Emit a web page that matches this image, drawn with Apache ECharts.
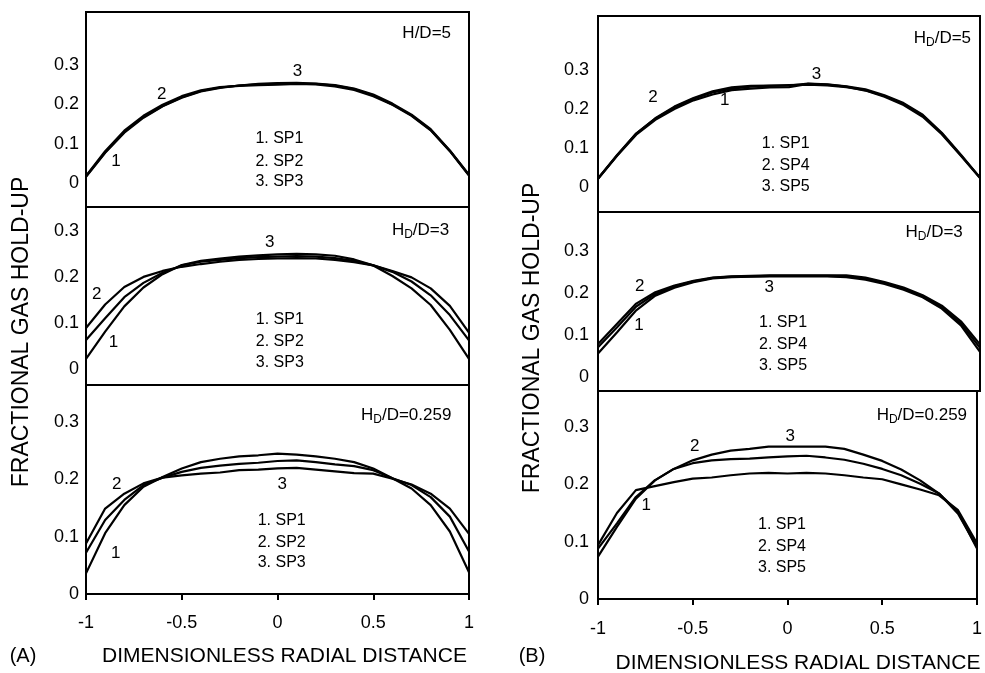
<!DOCTYPE html>
<html><head><meta charset="utf-8">
<script src="https://cdn.jsdelivr.net/npm/echarts@6/dist/echarts.min.js"></script>
<style>html,body{margin:0;padding:0;background:#fff}#c{width:985px;height:673px}</style>
</head><body><div id="c"></div>
<script>
// ---- data ----
const xs = [-1,-0.9,-0.8,-0.7,-0.6,-0.5,-0.4,-0.3,-0.2,-0.1,0,0.1,0.2,0.3,0.4,0.5,0.6,0.7,0.8,0.9,1];
const xTicks = [-1,-0.5,0,0.5,1];
const yTicks = [0,0.1,0.2,0.3];

// Panel A, H/D=5
const aTopSP1 = [0.017,0.078,0.130,0.168,0.196,0.218,0.234,0.243,0.248,0.251,0.252,0.253,0.252,0.248,0.239,0.223,0.200,0.172,0.135,0.082,0.020];
const aTopSP2 = [0.018,0.081,0.133,0.171,0.199,0.221,0.236,0.244,0.247,0.249,0.250,0.252,0.251,0.246,0.237,0.221,0.199,0.171,0.134,0.081,0.019];
const aTopSP3 = [0.016,0.077,0.128,0.166,0.195,0.217,0.233,0.242,0.248,0.252,0.254,0.255,0.253,0.249,0.240,0.225,0.202,0.174,0.137,0.083,0.021];
// Panel A, HD/D=3
const aMidSP1 = [0.022,0.081,0.136,0.177,0.206,0.226,0.235,0.240,0.244,0.247,0.249,0.250,0.249,0.246,0.238,0.225,0.202,0.175,0.139,0.085,0.022];
const aMidSP2 = [0.089,0.140,0.178,0.200,0.213,0.222,0.228,0.233,0.237,0.239,0.240,0.241,0.240,0.237,0.232,0.225,0.213,0.199,0.175,0.137,0.079];
const aMidSP3 = [0.063,0.110,0.156,0.187,0.209,0.225,0.233,0.237,0.241,0.243,0.244,0.245,0.244,0.241,0.235,0.225,0.211,0.190,0.160,0.117,0.062];
// Panel A, HD/D=0.259
const aBotSP1 = [0.036,0.106,0.155,0.187,0.204,0.219,0.230,0.236,0.240,0.242,0.245,0.243,0.240,0.236,0.230,0.219,0.202,0.184,0.155,0.109,0.038];
const aBotSP2 = [0.088,0.149,0.175,0.193,0.203,0.207,0.210,0.212,0.216,0.217,0.219,0.220,0.217,0.214,0.211,0.210,0.201,0.191,0.175,0.149,0.105];
const aBotSP3 = [0.072,0.129,0.164,0.190,0.203,0.213,0.220,0.224,0.227,0.229,0.232,0.233,0.230,0.226,0.223,0.216,0.202,0.190,0.169,0.135,0.074];
// Panel B, HD/D=5
const bTopSP1 = [0.021,0.080,0.134,0.172,0.200,0.222,0.237,0.248,0.252,0.255,0.256,0.264,0.262,0.257,0.247,0.231,0.210,0.180,0.135,0.080,0.023];
const bTopSP4 = [0.021,0.081,0.137,0.176,0.206,0.228,0.245,0.255,0.259,0.260,0.261,0.262,0.260,0.256,0.248,0.233,0.213,0.183,0.137,0.081,0.024];
const bTopSP5 = [0.022,0.082,0.137,0.175,0.204,0.226,0.242,0.252,0.257,0.259,0.260,0.265,0.263,0.258,0.250,0.235,0.215,0.185,0.139,0.083,0.024];
// Panel B, HD/D=3
const bMidSP1 = [0.056,0.107,0.159,0.194,0.213,0.226,0.235,0.238,0.239,0.240,0.240,0.240,0.240,0.238,0.232,0.222,0.208,0.190,0.163,0.123,0.060];
const bMidSP4 = [0.079,0.127,0.175,0.202,0.218,0.229,0.237,0.240,0.241,0.242,0.242,0.242,0.242,0.242,0.237,0.226,0.213,0.195,0.170,0.133,0.078];
const bMidSP5 = [0.071,0.119,0.168,0.198,0.216,0.228,0.236,0.239,0.240,0.241,0.241,0.241,0.241,0.240,0.235,0.224,0.211,0.192,0.166,0.128,0.070];
// Panel B, HD/D=0.259
const bBotSP1 = [0.094,0.150,0.190,0.197,0.204,0.210,0.212,0.216,0.219,0.220,0.219,0.220,0.219,0.216,0.212,0.209,0.200,0.191,0.181,0.155,0.097];
const bBotSP4 = [0.088,0.132,0.178,0.207,0.227,0.237,0.242,0.244,0.245,0.247,0.249,0.250,0.247,0.243,0.236,0.227,0.216,0.201,0.184,0.152,0.088];
const bBotSP5 = [0.074,0.126,0.175,0.207,0.227,0.242,0.252,0.259,0.262,0.266,0.266,0.266,0.266,0.262,0.252,0.241,0.226,0.207,0.184,0.149,0.091];

const legendA = ['1. SP1','2. SP2','3. SP3'];
const legendB = ['1. SP1','2. SP4','3. SP5'];
const panelTitles = ['H/D=5','HD/D=3','HD/D=0.259','HD/D=5','HD/D=3','HD/D=0.259'];

// ---- layout ----
const FONT = '"Liberation Sans", Arial, Helvetica, sans-serif';
const grids = [
  {left:86, top:12, width:383, height:195},
  {left:86, top:207, width:383, height:178},
  {left:86, top:385, width:383, height:209},
  {left:598, top:16, width:382, height:196},
  {left:598, top:212, width:382, height:179},
  {left:598, top:391, width:382, height:208}
];
const yRanges = [[-0.061,0.435],[-0.035,0.352],[0,0.3646],[-0.064,0.438],[-0.033,0.393],[0,0.363]];
const curves = [
  [aTopSP1,aTopSP2,aTopSP3],[aMidSP1,aMidSP2,aMidSP3],[aBotSP1,aBotSP2,aBotSP3],
  [bTopSP1,bTopSP4,bTopSP5],[bMidSP1,bMidSP4,bMidSP5],[bBotSP1,bBotSP4,bBotSP5]
];
// annotation anchors (data coordinates)
const curveLabelPos = [
  [[-0.843,0.055],[-0.605,0.225],[0.104,0.284]],
  [[-0.857,0.058],[-0.944,0.163],[-0.04,0.276]],
  [[-0.845,0.071],[-0.84,0.191],[0.025,0.191]],
  [[-0.336,0.222],[-0.712,0.231],[0.144,0.289]],
  [[-0.785,0.123],[-0.782,0.217],[-0.104,0.213]],
  [[-0.746,0.164],[-0.489,0.267],[0.015,0.284]]
];
const legendPos = [
  [0.01,[0.113,0.055,0.0025]],
  [0.012,[0.108,0.06,0.013]],
  [0.022,[0.128,0.09,0.054]],
  [-0.017,[0.111,0.054,0.0]],
  [-0.031,[0.129,0.078,0.028]],
  [-0.029,[0.13,0.092,0.055]]
];
const titlePos = [[0.779,0.381],[0.747,0.301],[0.672,0.312],[0.803,0.38],[0.76,0.345],[0.709,0.32]];

function titleRich(t){
  if (t.startsWith('HD')) return '{n|H}{s|D}{n|' + t.slice(2) + '}';
  return '{n|' + t + '}';
}

const option = {
  backgroundColor:'#fff',
  animation:false,
  grid: grids.map(g => Object.assign({show:true, borderColor:'#000', borderWidth:2, backgroundColor:'transparent'}, g)),
  xAxis: grids.map((g,i) => ({
    type:'value', gridIndex:i, min:-1, max:1, interval:0.5,
    axisLine:{show:true, onZero:false, lineStyle:{color:'#000', width:2}},
    axisTick:{show: i===2||i===5, length:6, lineStyle:{color:'#000', width:2}},
    axisLabel:{show: i===2||i===5, color:'#000', fontSize:18, fontFamily:FONT, margin: i===2?20:21, customValues:xTicks},
    splitLine:{show:false}
  })),
  yAxis: grids.map((g,i) => ({
    type:'value', gridIndex:i, min:yRanges[i][0], max:yRanges[i][1],
    axisLine:{show:true, onZero:false, lineStyle:{color:'#000', width:2}},
    axisTick:{show:false},
    axisLabel:{show:true, color:'#000', fontSize:18, fontFamily:FONT, margin: i<3?7:9, customValues:yTicks,
      formatter: v => String(Math.round(v*10)/10)},
    splitLine:{show:false}
  })),
  series: [],
  graphic: [
    {type:'text', x:22, y:332, rotation:Math.PI/2, style:{text:'FRACTIONAL GAS HOLD-UP', font:'23px '+FONT, fill:'#000', align:'center', verticalAlign:'middle'}},
    {type:'text', x:533, y:338, rotation:Math.PI/2, style:{text:'FRACTIONAL GAS HOLD-UP', font:'23px '+FONT, fill:'#000', align:'center', verticalAlign:'middle'}},
    {type:'text', x:284.5, y:656, style:{text:'DIMENSIONLESS RADIAL DISTANCE', font:'21px '+FONT, fill:'#000', align:'center', verticalAlign:'middle'}},
    {type:'text', x:798, y:663, style:{text:'DIMENSIONLESS RADIAL DISTANCE', font:'21px '+FONT, fill:'#000', align:'center', verticalAlign:'middle'}},
    {type:'text', x:23, y:656, style:{text:'(A)', font:'20px '+FONT, fill:'#000', align:'center', verticalAlign:'middle'}},
    {type:'text', x:532, y:656, style:{text:'(B)', font:'20px '+FONT, fill:'#000', align:'center', verticalAlign:'middle'}}
  ]
};

const lblBase = {show:true, position:'inside', color:'#000', opacity:1, textBorderWidth:0, textBorderColor:'transparent', fontFamily:FONT};

curves.forEach((set,gi) => {
  set.forEach((arr,k) => {
    option.series.push({
      type:'line', xAxisIndex:gi, yAxisIndex:gi, symbol:'none', silent:true,
      lineStyle:{color:'#000', width:2.2}, data: xs.map((x,j)=>[x, arr[j]])
    });
  });
  const leg = gi<3 ? legendA : legendB;
  const ann = [];
  curveLabelPos[gi].forEach((p,k)=> ann.push({value:[p[0],p[1]], t:String(k+1), fs:17}));
  legendPos[gi][1].forEach((y,k)=> ann.push({value:[legendPos[gi][0], y], t:leg[k], fs:16}));
  option.series.push({
    type:'scatter', xAxisIndex:gi, yAxisIndex:gi, symbolSize:0, silent:true, itemStyle:{color:'#000', opacity:1},
    data: ann.map(a => ({value:a.value, label:Object.assign({}, lblBase, {formatter:a.t, fontSize:a.fs})}))
  });
  option.series.push({
    type:'scatter', xAxisIndex:gi, yAxisIndex:gi, symbolSize:0, silent:true, itemStyle:{color:'#000', opacity:1},
    data:[{value:titlePos[gi], label:Object.assign({}, lblBase, {formatter:titleRich(panelTitles[gi]),
      rich:{n:{fontSize:17, fontFamily:FONT, color:'#000', lineHeight:20, verticalAlign:'middle'},
            s:{fontSize:12, fontFamily:FONT, color:'#000', lineHeight:12, padding:[9,0,0,0], verticalAlign:'middle'}}})}]
  });
});

const chart = echarts.init(document.getElementById('c'), null, {renderer:'canvas'});
chart.setOption(option);
</script></body></html>
